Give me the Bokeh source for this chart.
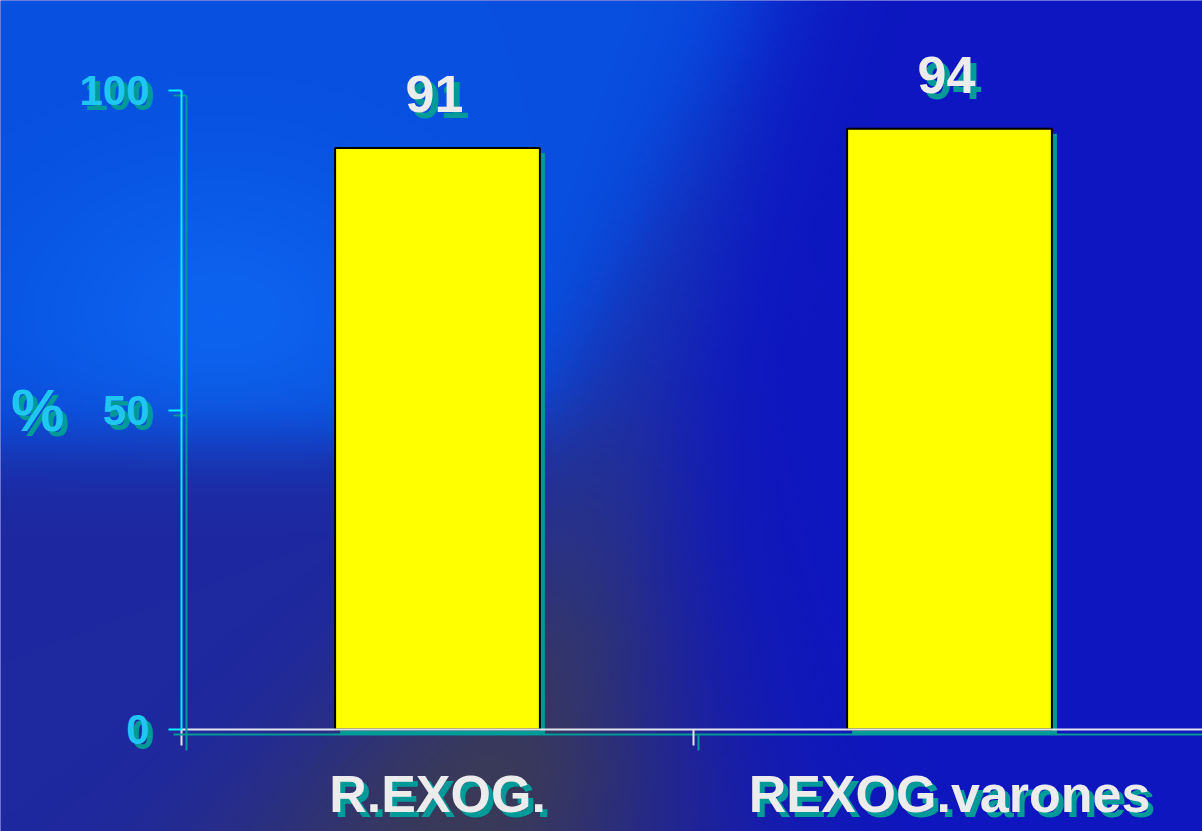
import numpy as np
from bokeh.plotting import figure
from bokeh.models import Range1d, LinearAxis, FixedTicker, ColumnDataSource
from bokeh.core.properties import value
from bokeh.embed import file_html
from bokeh.resources import INLINE

# ---- data -------------------------------------------------------------
categories = ["R.EXOG.", "REXOG.varones"]
percentages = [91, 94]
cat_centers = [0.5, 1.5]          # one unit of x per category
cat_edges = [0, 1, 2]
y_ticks = [0, 50, 100]
y_title = "%"

# ---- geometry ---------------------------------------------------------
W, H = 1202, 831
PX_X = 512.0      # pixels per category unit
PX_Y = 6.39       # pixels per percent
ORIGIN_PX = (181, 729)

x0 = -ORIGIN_PX[0] / PX_X
x1 = (W - ORIGIN_PX[0]) / PX_X
y1 = ORIGIN_PX[1] / PX_Y
y0 = -(H - ORIGIN_PX[1]) / PX_Y

SHADOW = "#009a98"
CYAN_LINE = "#00f4ff"
CYAN_TEXT = "#20c6f2"
WHITE = "#ececec"
FONT = "Liberation Sans"

p = figure(width=W, height=H, x_range=Range1d(x0, x1), y_range=Range1d(y0, y1),
           output_backend="svg", toolbar_location=None,
           x_axis_location=None, y_axis_location=None, min_border=0)
p.outline_line_color = None
p.grid.visible = False
p.background_fill_color = "#1018c0"
p.border_fill_color = "#1018c0"

# shifted ranges used for the drop-shadow copies of the axes
def shifted(dx_px, dy_px):
    return (Range1d(x0 - dx_px / PX_X, x1 - dx_px / PX_X),
            Range1d(y0 + dy_px / PX_Y, y1 + dy_px / PX_Y))

sx, sy = shifted(5, 5)
p.extra_x_ranges = {"sx": sx}
p.extra_y_ranges = {"sy": sy}

# ---- background: blue slide gradient with a dark diagonal streak --------
GW, GH = 301, 208
gx = (np.arange(GW) + 0.5) * W / GW
gy = (np.arange(GH) + 0.5) * H / GH
X, Y = np.meshgrid(gx, gy)

def sig(t):
    return 1.0 / (1.0 + np.exp(-t))

right_col = np.array([14, 22, 192], float)
bright_col = np.array([8, 80, 224], float)
blob_col = np.array([14, 104, 242], float)
navy_col = np.array([30, 40, 160], float)
band_top = np.array([36, 46, 150], float)
band_bot = np.array([60, 58, 84], float)

# signed distance to the streak's centre line (positive = upper-left side)
P1 = np.array([470.0, 831.0]); P2 = np.array([710.0, 150.0])
d = P2 - P1
nrm = np.array([-d[1], d[0]]); nrm = -nrm / np.hypot(*nrm)
dist = (X - P1[0]) * nrm[0] + (Y - P1[1]) * nrm[1]

img = np.ones((GH, GW, 3)) * right_col
w_left = sig(dist / 35.0)
img = img * (1 - w_left[..., None]) + bright_col * w_left[..., None]
w_blob = np.exp(-(((X - 220) / 200) ** 2 + ((Y - 320) / 150) ** 2)) * w_left * 0.8
img = img * (1 - w_blob[..., None]) + blob_col * w_blob[..., None]
w_navy = sig((Y - 445) / 22.0) * w_left
img = img * (1 - w_navy[..., None]) + navy_col * w_navy[..., None]
spread = 50 + 170 * (Y / H) ** 2
w_band = np.exp(-(dist / spread) ** 2) * np.clip((Y - 40) / 600, 0, 1) ** 1.1 * 0.95
t = np.clip((Y - 350) / 420, 0, 1)[..., None]
band_col = band_top * (1 - t) + band_bot * t
img = img * (1 - w_band[..., None]) + band_col * w_band[..., None]

rgba = np.zeros((GH, GW, 4), dtype=np.uint8)
rgba[..., :3] = np.clip(img, 0, 255).astype(np.uint8)
rgba[..., 3] = 255
bg = rgba[::-1].copy().view(np.uint32).reshape(GH, GW)
p.image_rgba(image=[bg], x=x0, y=y0, dw=x1 - x0, dh=y1 - y0, level="image")

# ---- bars -------------------------------------------------------------
src = ColumnDataSource(dict(x=cat_centers, top=percentages,
                            label=[str(v) for v in percentages]))
p.vbar(x="x", top="top", bottom=0, width=0.4, source=src,
       x_range_name="sx", y_range_name="sy",
       fill_color=SHADOW, line_color=None)
p.vbar(x="x", top="top", bottom=0, width=0.4, source=src,
       fill_color="#ffff00", line_color="#000000", line_width=2)

# value labels with drop shadow
for col, dx, dy in ((SHADOW, 6, 6), (WHITE, 0, 0)):
    p.text(x="x", y="top", text="label", source=src,
           x_offset=-3 + dx, y_offset=-54 + dy,
           text_align="center", text_baseline="alphabetic",
           text_font=value(FONT), text_font_style="bold",
           text_font_size="52px", text_color=col)

# ---- axes (shadow copy first, then the visible one) --------------------
def add_axes(xr, yr, line_col, label_col, tick_col, cat_col, title_col):
    yax = LinearAxis(fixed_location=0, x_range_name=xr, y_range_name=yr,
                     ticker=FixedTicker(ticks=y_ticks), bounds=(0, 100))
    yax.axis_line_color = line_col
    yax.axis_line_width = 2
    yax.major_tick_line_color = line_col
    yax.major_tick_line_width = 2
    yax.major_tick_in = 0
    yax.major_tick_out = 13
    yax.minor_tick_line_color = None
    yax.major_label_standoff = 19
    yax.major_label_text_font = FONT
    yax.major_label_text_font_style = "bold"
    yax.major_label_text_font_size = "42px"
    yax.major_label_text_color = label_col
    yax.axis_label = y_title
    yax.axis_label_orientation = "horizontal"
    yax.axis_label_standoff = 12
    yax.axis_label_text_font = FONT
    yax.axis_label_text_font_style = "bold"
    yax.axis_label_text_font_size = "60px"
    yax.axis_label_text_color = title_col
    p.add_layout(yax, "left")

    xax = LinearAxis(fixed_location=0, x_range_name=xr, y_range_name=yr,
                     ticker=FixedTicker(ticks=cat_edges), bounds=(0, 2))
    xax.axis_line_color = tick_col
    xax.axis_line_width = 2
    xax.major_tick_line_color = tick_col
    xax.major_tick_line_width = 2
    xax.major_tick_in = 0
    xax.major_tick_out = 16
    xax.minor_tick_line_color = None
    xax.major_label_text_color = None
    p.add_layout(xax, "below")

    cax = LinearAxis(fixed_location=0, x_range_name=xr, y_range_name=yr,
                     ticker=FixedTicker(ticks=cat_centers))
    cax.axis_line_color = None
    cax.major_tick_line_color = None
    cax.minor_tick_line_color = None
    cax.major_tick_out = 0
    cax.major_tick_in = 0
    cax.major_label_standoff = 35
    cax.major_label_overrides = {c: n for c, n in zip(cat_centers, categories)}
    cax.major_label_text_font = FONT
    cax.major_label_text_font_style = "bold"
    cax.major_label_text_font_size = "52px"
    cax.major_label_text_color = cat_col
    p.add_layout(cax, "below")

add_axes("sx", "sy", SHADOW, SHADOW, SHADOW, SHADOW, SHADOW)
add_axes("default", "default", CYAN_LINE, CYAN_TEXT, "#e4e4ee", WHITE, CYAN_TEXT)

open("out.html", "w").write(file_html(p, INLINE))
